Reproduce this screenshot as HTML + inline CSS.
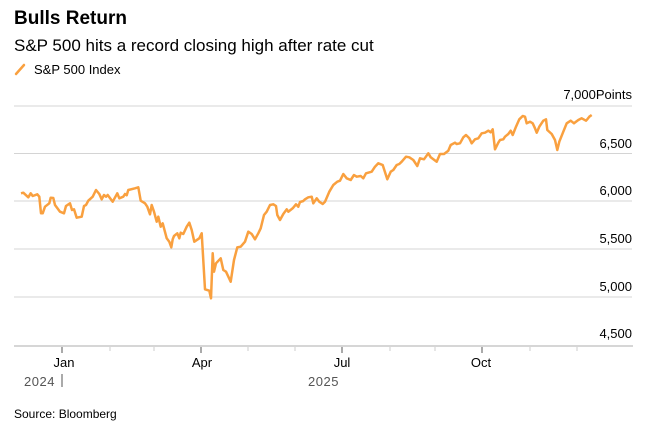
<!DOCTYPE html>
<html><head><meta charset="utf-8"><style>
body{margin:0;background:#fff;width:651px;height:425px;overflow:hidden;font-family:"Liberation Sans",Arial,sans-serif;}
</style></head><body>
<svg width="651" height="425" xmlns="http://www.w3.org/2000/svg" font-family="Liberation Sans, Arial, sans-serif">
<text x="14" y="24" font-size="19" font-weight="bold" fill="#000">Bulls Return</text>
<text x="14" y="51" font-size="17" fill="#000">S&amp;P 500 hits a record closing high after rate cut</text>
<line x1="16" y1="74" x2="24" y2="65" stroke="#f9a03f" stroke-width="2.5" stroke-linecap="round"/>
<text x="34" y="74" font-size="13" fill="#000">S&amp;P 500 Index</text>
<g stroke="#d4d4d4" stroke-width="1">
<line x1="14" y1="106" x2="632" y2="106"/>
<line x1="14" y1="153.5" x2="632" y2="153.5"/>
<line x1="14" y1="201" x2="632" y2="201"/>
<line x1="14" y1="249" x2="632" y2="249"/>
<line x1="14" y1="297" x2="632" y2="297"/>
</g>
<line x1="14" y1="346" x2="633" y2="346" stroke="#c8c8c8" stroke-width="1.5"/>
<g font-size="13" fill="#000" text-anchor="end">
<text x="632" y="99">7,000Points</text>
<text x="632" y="148">6,500</text>
<text x="632" y="195">6,000</text>
<text x="632" y="243">5,500</text>
<text x="632" y="291">5,000</text>
<text x="632" y="338">4,500</text>
</g>
<g stroke="#555" stroke-width="1">
<line x1="62" y1="347" x2="62" y2="353"/><line x1="201" y1="347" x2="201" y2="353"/>
<line x1="342" y1="347" x2="342" y2="353"/><line x1="482" y1="347" x2="482" y2="353"/>
</g>
<g stroke="#ccc" stroke-width="1">
<line x1="110" y1="347" x2="110" y2="351"/><line x1="154" y1="347" x2="154" y2="351"/>
<line x1="248" y1="347" x2="248" y2="351"/><line x1="295" y1="347" x2="295" y2="351"/>
<line x1="390" y1="347" x2="390" y2="351"/><line x1="435" y1="347" x2="435" y2="351"/>
<line x1="530" y1="347" x2="530" y2="351"/><line x1="577" y1="347" x2="577" y2="351"/>
</g>
<g font-size="13" fill="#000" text-anchor="middle">
<text x="64" y="367">Jan</text><text x="202" y="367">Apr</text>
<text x="342" y="367">Jul</text><text x="481" y="367">Oct</text>
</g>
<text x="24" y="386" font-size="13" fill="#555" letter-spacing="0.5">2024</text>
<line x1="62" y1="374" x2="62" y2="387" stroke="#555" stroke-width="1"/>
<text x="308" y="386" font-size="13" fill="#555" letter-spacing="0.5">2025</text>
<text x="14" y="418" font-size="12" fill="#000">Source: Bloomberg</text>
<polyline fill="none" stroke="#f9a03f" stroke-width="2.5" stroke-linejoin="round" points="21,193.3 23.3,192.7 28.3,197.3 30.7,193.3 32.7,196 37.3,194.3 39.3,196.7 41,213.3 42.7,213.3 45,206.7 49.3,203.3 50.7,197.7 53.3,198 55,205 60,211.7 64,213.3 66,206 70,203.3 72,210 74,209.3 76.7,217.7 81.7,216.7 84,206 86,205 88.3,200.7 92.7,196.7 96,190 99.3,194 101.7,199.3 104,195 106,196.7 107.7,195 112.7,201.7 117.3,193.3 119.3,198.3 123.3,196.7 125,194 126.7,195.3 128.3,190 135,188.3 138.3,187.3 140.7,200.7 145,203.3 147.3,206.7 150,214.3 151.7,205 154,211.7 156.7,221.7 158.3,216.7 160.7,226.7 162.7,223.3 166.7,238.3 169.3,241.7 171.3,247.3 172.7,239.3 174,236 177.3,233.3 179.3,238.3 180.7,232.7 183.3,234 186.7,226.7 189.3,222.7 191.7,230 194.3,241.7 199.3,238.3 201.7,233.3 205,289.3 209.3,290.7 211,298.3 212.7,253.3 214,271.7 216,263.3 220.7,258.3 223.3,270 226,271.7 230.7,281.7 234,260 237.3,247.3 240.7,246.7 245,241.7 248.3,231.7 251.7,234 255,239.3 258.3,233.3 260.7,228.3 264,215 266.7,211.7 270,205 273.3,204.3 276,206 277.3,215 280,220 283.3,214 286.7,209.3 288.3,211.7 292.7,208.3 296,204.3 298.3,206.7 300,202 303.3,201 305,199.3 308.3,197.3 311.7,196.7 313.3,203.3 316.7,198.3 319.3,201.7 322.7,204 325,201.7 329.3,191.7 333.3,185 337.3,181.7 340,180.7 343.3,174 346.7,178.3 350.7,180 354,175 356.7,176.7 360.7,176 363.3,178.3 366,173.3 371.7,171.7 375,166.7 378.3,163.3 382.7,165 387.3,179.3 390.7,171.7 393.3,170 396.7,165 399.3,164 401.7,161.7 406,156.7 409.3,157.3 413.3,160 417.3,166 420,158.3 424,159.3 428.3,153.3 430.7,157.3 436.7,161.7 440,154 444,154 448.3,150.7 450.7,145 455,142.7 456.7,144 460,143.3 463.3,137.3 466,135 469.3,138.3 471.7,143.3 475,139.3 478.3,138.3 481.7,133.3 485,132.7 488.3,130.7 490.7,132.3 492.7,129.3 495,149.3 498.3,142.7 500,140 503.3,139.3 505,136.7 508.3,134 510.7,130.7 512.7,135 516,126.7 519.3,119.3 522.7,116 525,116.7 526.7,123.3 530,121.7 532.7,123.3 535,128.3 536.7,132.7 539.3,126.7 543.3,120.7 546,119.3 547.3,130 551.7,134 555,140 557.3,150 559.3,141.7 563.3,131.7 566.7,123.3 570.7,120.7 574,123.3 578.3,120 581.7,118.3 586,120.7 587.3,119.3 589.3,116.7 591.7,115"/>
</svg>
</body></html>
